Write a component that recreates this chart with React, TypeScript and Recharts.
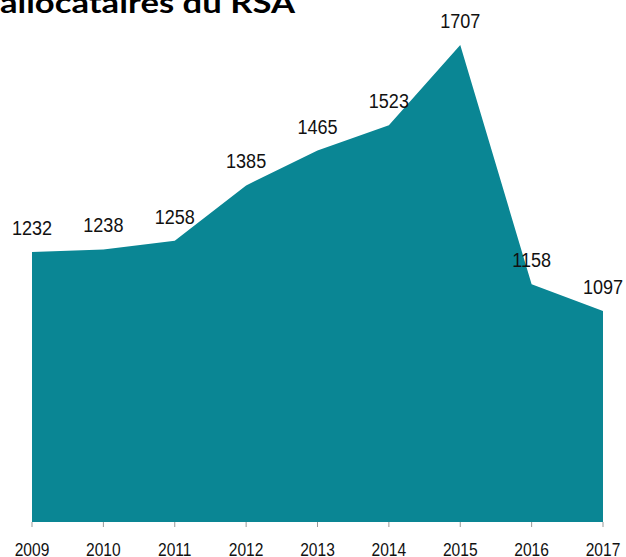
import { AreaChart, Area, XAxis, YAxis, LabelList } from "recharts";

const years = ["2009", "2010", "2011", "2012", "2013", "2014", "2015", "2016", "2017"];
const allocataires = [1232, 1238, 1258, 1385, 1465, 1523, 1707, 1158, 1097];

const data = years.map((year, i) => ({ year, value: allocataires[i] }));

const FONT = "'Liberation Sans', Arial, sans-serif";

// text squeezed horizontally around its anchor x (reference glyphs look compressed)
function NarrowText({ x, y, size, squeeze, children, dy }: any) {
  return (
    <text
      x={x}
      y={y}
      dy={dy}
      textAnchor="middle"
      fontSize={size}
      fontFamily={FONT}
      fill="#111"
      transform={`translate(${x} 0) scale(${squeeze} 1) translate(${-x} 0)`}
    >
      {children}
    </text>
  );
}

function YearTick(props: any) {
  const { x, y, payload } = props;
  return (
    <NarrowText x={x} y={y} dy="0.71em" size={19} squeeze={0.82}>
      {payload.value}
    </NarrowText>
  );
}

function ValueLabel(props: any) {
  const x = props.x ?? props.viewBox?.x;
  const y = props.y ?? props.viewBox?.y;
  return (
    <NarrowText x={x} y={y - 17} size={21} squeeze={0.86}>
      {props.value}
    </NarrowText>
  );
}

export default function App() {
  return (
    <div
      style={{
        position: "absolute",
        left: 0,
        top: 0,
        width: 626,
        height: 557,
        overflow: "hidden",
        background: "#fff",
      }}
    >
      <svg width={626} height={40} style={{ position: "absolute", left: 0, top: 0 }}>
        <text
          x={0}
          y={13}
          fontSize={29}
          fontWeight={700}
          fontFamily="'Lato', 'DejaVu Sans', sans-serif"
          fill="#000"
          textLength={295}
          lengthAdjust="spacingAndGlyphs"
        >
          allocataires du RSA
        </text>
      </svg>
      <AreaChart
        width={626}
        height={557}
        data={data}
        margin={{ top: 45, right: 23, bottom: 0, left: 32 }}
      >
        <XAxis
          dataKey="year"
          axisLine={false}
          tickSize={11}
          tickMargin={10}
          tickLine={{ stroke: "#999", strokeDasharray: "0 6 5 100" }}
          tick={<YearTick />}
          interval={0}
          height={35}
        />
        <YAxis hide domain={[613, 1707]} />
        <Area
          type="linear"
          dataKey="value"
          stroke="none"
          fill="#0a8694"
          fillOpacity={1}
          isAnimationActive={false}
        >
          <LabelList dataKey="value" content={<ValueLabel />} />
        </Area>
      </AreaChart>
    </div>
  );
}
